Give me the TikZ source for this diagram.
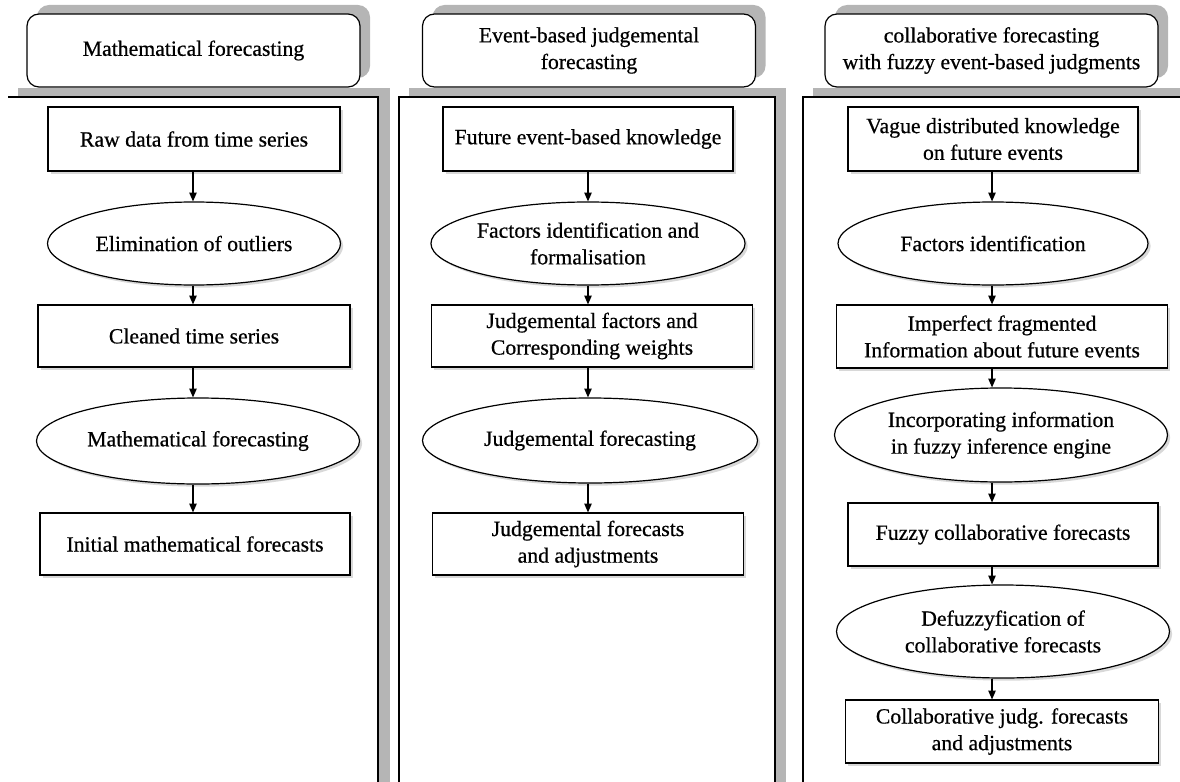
\documentclass[tikz,border=0pt]{standalone}
\usepackage{fontspec}
\setmainfont{Liberation Serif}[FakeBold=0.6]
\usetikzlibrary{arrows.meta,shapes.geometric,shadows}
\definecolor{shadowgray}{RGB}{181,181,181}

\begin{document}
\begin{tikzpicture}[x=0.75pt,y=0.75pt,yscale=-1,xscale=1,
  every node/.style={font=\fontsize{16.3}{20}\selectfont, align=center, inner sep=0pt},
  stepbox/.style={draw, line width=0.9pt, fill=white, rectangle,
    drop shadow={shadow xshift=2pt, shadow yshift=-2pt, opacity=0.3}},
  stepoval/.style={draw, line width=0.9pt, fill=white, ellipse,
    drop shadow={shadow xshift=2pt, shadow yshift=-2pt, opacity=0.3}},
  headbox/.style={draw, line width=0.9pt, fill=white, rounded corners=9pt,
    minimum width=249.75pt, minimum height=54.75pt,
    general shadow={fill=shadowgray, shadow xshift=7.5pt, shadow yshift=6.75pt}},
  flow/.style={-{Triangle[length=6.5pt,width=5.5pt]}, line width=0.8pt}
]
\useasboundingbox (0,0) rectangle (1180,781);
\clip (0,0) rectangle (1180,781);

%Panels with shadow
\fill[shadowgray] (18,88) rectangle (390,800);
\fill[white] (8,97) rectangle (378,800);
\draw[line width=1.1pt] (8,97) -- (378,97) -- (378,800);
\fill[shadowgray] (409,88) rectangle (786,800);
\draw[line width=1.1pt, fill=white] (399,97) rectangle (775,800);
\fill[shadowgray] (813,88) rectangle (1200,800);
\draw[line width=1.1pt, fill=white] (803,97) rectangle (1200,800);

%Headers
\node[headbox] (headA) at (193.5,50.5) {Mathematical forecasting};
\node[headbox] (headB) at (589,50.5) {Event-based judgemental\\forecasting};
\node[headbox] (headC) at (991.5,50.5) {collaborative forecasting\\with fuzzy event-based judgments};

%Column axes
\coordinate (axisA) at (193,0);
\coordinate (axisB) at (588,0);
\coordinate (axisC) at (992,0);

%Mathematical forecasting
\node[stepbox, minimum width=219pt, minimum height=48pt] (raw) at (194,139) {Raw data from time series};
\node[stepoval, minimum width=219.75pt, minimum height=62.25pt] (elim) at (194,243.5) {Elimination of outliers};
\node[stepbox, minimum width=234pt, minimum height=46.5pt] (clean) at (194,336) {Cleaned time series};
\node[stepoval, minimum width=242.25pt, minimum height=64.5pt] (mathf) at (198,441) {Mathematical forecasting};
\node[stepbox, minimum width=232.5pt, minimum height=46.5pt] (init) at (195,544) {Initial mathematical  forecasts};

%Event-based judgemental forecasting
\node[stepbox, minimum width=217.5pt, minimum height=48pt] (fut) at (588,139) {Future event-based knowledge};
\node[stepoval, minimum width=217.5pt, minimum height=62.25pt] (fact) at (588,243.5) {Factors identification and\\formalisation};
\node[stepbox, minimum width=240.75pt, minimum height=46.5pt] (jfac) at (592,336) {Judgemental factors and\\Corresponding weights};
\node[stepoval, minimum width=251.25pt, minimum height=63.75pt] (jfore) at (590,440.5) {Judgemental forecasting};
\node[stepbox, minimum width=233.25pt, minimum height=46.5pt] (jadj) at (588,544) {Judgemental forecasts\\and adjustments};

%Collaborative forecasting
\node[stepbox, minimum width=217.5pt, minimum height=48pt] (vague) at (993,139) {Vague distributed knowledge\\on future events};
\node[stepoval, minimum width=232.5pt, minimum height=62.25pt] (factid) at (993,243.5) {Factors identification};
\node[stepbox, minimum width=248.25pt, minimum height=47.25pt] (imperf) at (1002,336.5) {Imperfect fragmented\\Information about future events};
\node[stepoval, minimum width=249.75pt, minimum height=70.5pt] (incorp) at (1001,435) {Incorporating information\\in fuzzy inference engine};
\node[stepbox, minimum width=232.5pt, minimum height=47.25pt] (fuzzy) at (1003,534.5) {Fuzzy collaborative  forecasts};
\node[stepoval, minimum width=249.75pt, minimum height=69.75pt] (defuz) at (1003,631.5) {Defuzzyfication of\\collaborative  forecasts};
\node[stepbox, minimum width=234.75pt, minimum height=47.25pt] (collab) at (1002,731.5) {Collaborative judg. forecasts\\and adjustments};

%Straight Lines
\draw[flow] (raw.south -| axisA) -- (elim.north -| axisA);
\draw[flow] (elim.south -| axisA) -- (clean.north -| axisA);
\draw[flow] (clean.south -| axisA) -- (mathf.north -| axisA);
\draw[flow] (mathf.south -| axisA) -- (init.north -| axisA);

\draw[flow] (fut.south -| axisB) -- (fact.north -| axisB);
\draw[flow] (fact.south -| axisB) -- (jfac.north -| axisB);
\draw[flow] (jfac.south -| axisB) -- (jfore.north -| axisB);
\draw[flow] (jfore.south -| axisB) -- (jadj.north -| axisB);

\draw[flow] (vague.south -| axisC) -- (factid.north -| axisC);
\draw[flow] (factid.south -| axisC) -- (imperf.north -| axisC);
\draw[flow] (imperf.south -| axisC) -- (incorp.north -| axisC);
\draw[flow] (incorp.south -| axisC) -- (fuzzy.north -| axisC);
\draw[flow] (fuzzy.south -| axisC) -- (defuz.north -| axisC);
\draw[flow] (defuz.south -| axisC) -- (collab.north -| axisC);

\end{tikzpicture}
\end{document}
